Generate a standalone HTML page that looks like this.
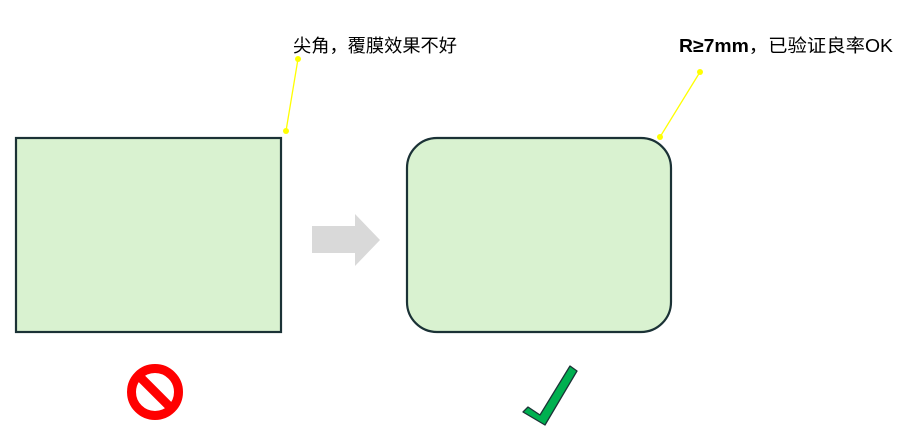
<!DOCTYPE html>
<html><head><meta charset="utf-8"><style>
html,body{margin:0;padding:0;background:#fff;width:900px;height:433px;overflow:hidden;}
svg{display:block}
text{font-family:"Liberation Sans","Noto Sans CJK SC",sans-serif;font-size:18.3px;fill:#000;}
</style></head><body>
<svg width="900" height="433" viewBox="0 0 900 433">
<rect x="16" y="138" width="265" height="194" fill="#d9f2d0" stroke="#1b3236" stroke-width="2.2"/>
<rect x="407" y="138" width="264" height="194" rx="30" ry="30" fill="#d9f2d0" stroke="#1b3236" stroke-width="2.2"/>
<polygon points="312,226 355,226 355,214 380,240 355,266 355,253 312,253" fill="#d9d9d9"/>
<line x1="298" y1="59" x2="286" y2="131" stroke="#ffff00" stroke-width="1.3"/>
<circle cx="298" cy="59" r="3" fill="#ffff00"/>
<circle cx="286" cy="131" r="3" fill="#ffff00"/>
<line x1="700" y1="72" x2="660" y2="137" stroke="#ffff00" stroke-width="1.3"/>
<circle cx="700" cy="72" r="3" fill="#ffff00"/>
<circle cx="660" cy="137" r="3" fill="#ffff00"/>
<text x="293" y="52" textLength="164" lengthAdjust="spacingAndGlyphs">尖角，覆膜效果不好</text>
<text x="679" y="52" textLength="214" lengthAdjust="spacingAndGlyphs"><tspan font-weight="bold">R≥7mm</tspan>，已验证良率OK</text>
<circle cx="155" cy="392" r="23.5" fill="none" stroke="#ff0000" stroke-width="9"/>
<line x1="139" y1="376" x2="171" y2="408" stroke="#ff0000" stroke-width="9"/>
<polygon points="523,412 528,407 540,415 570,366 577,371 545,425" fill="#00b050" stroke="#1b3236" stroke-width="1.3" stroke-linejoin="round"/>
</svg>
</body></html>
